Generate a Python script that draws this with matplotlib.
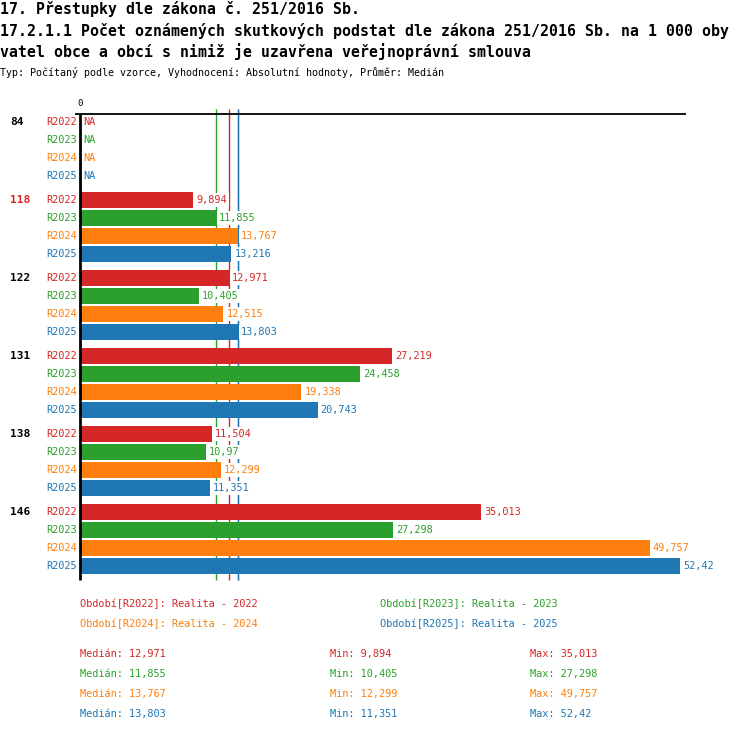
import matplotlib
matplotlib.use("Agg")
import matplotlib.pyplot as plt
import matplotlib.transforms as mtransforms
import numpy as np

# ---- data ----
groups = ["84", "118", "122", "131", "138", "146"]
highlight = "118"
series = ["R2022", "R2023", "R2024", "R2025"]
colors = ["#d62728", "#2ca02c", "#ff7f0e", "#1f77b4"]
v2022 = [None, 9.894, 12.971, 27.219, 11.504, 35.013]
v2023 = [None, 11.855, 10.405, 24.458, 10.97, 27.298]
v2024 = [None, 13.767, 12.515, 19.338, 12.299, 49.757]
v2025 = [None, 13.216, 13.803, 20.743, 11.351, 52.42]
values = [v2022, v2023, v2024, v2025]
medians = [12.971, 11.855, 13.767, 13.803]
mins = [9.894, 10.405, 12.299, 11.351]
maxs = [35.013, 27.298, 49.757, 52.42]
periods = ["Období[R2022]: Realita - 2022", "Období[R2023]: Realita - 2023",
           "Období[R2024]: Realita - 2024", "Období[R2025]: Realita - 2025"]
title1 = "17. Přestupky dle zákona č. 251/2016 Sb."
title2 = "17.2.1.1 Počet oznámených skutkových podstat dle zákona 251/2016 Sb. na 1 000 oby"
title3 = "vatel obce a obcí s nimiž je uzavřena veřejnoprávní smlouva"
subtitle = "Typ: Počítaný podle vzorce, Vyhodnocení: Absolutní hodnoty, Průměr: Medián"


def fmt(v):
    s = ("%.3f" % v).rstrip("0").rstrip(".")
    return s.replace(".", ",")


W, H = 750, 732
plt.rcParams['font.family'] = ['DejaVu Sans Mono']
fig = plt.figure(figsize=(W / 100, H / 100), dpi=100)

def fx(px):
    return px / W

def fy(py):
    return 1 - py / H

# axes: x 0..53 maps px 80..687 ; y rows
left, right, top, bottom = 80, 687, 114, 580
ax = fig.add_axes([fx(left), fy(bottom), fx(right - left), (bottom - top) / H])
step = 18.0
gstep = 78.0 / step
ytop = -(122 - top) / step
ybot = (bottom - 122) / step
ax.set_xlim(0, 53)
ax.set_ylim(ybot, ytop)
ax.axis("off")

bg = dict(facecolor="white", edgecolor="none", pad=1.2)
bh = 16 / step
for g, grp in enumerate(groups):
    for s in range(4):
        y = g * gstep + s
        v = values[s][g]
        c = colors[s]
        ax.annotate(series[s], xy=(0, y), xycoords="data", xytext=(-2, 0),
                    textcoords="offset points", ha="right", va="center",
                    fontsize=7.4, color=c)
        if v is None:
            ax.annotate("NA", xy=(0, y), xytext=(2.5, 0), textcoords="offset points",
                        ha="left", va="center", fontsize=7.4, color=c, zorder=4)
        else:
            ax.barh(y, v, height=bh, color=c, left=0, zorder=3)
            ax.annotate(fmt(v), xy=(v, y), xytext=(2.2, 0), textcoords="offset points",
                        ha="left", va="center", fontsize=7.4, color=c,
                        bbox=bg, zorder=4)
    trans = mtransforms.blended_transform_factory(fig.transFigure, ax.transData)
    ax.text(fx(10), g * gstep, grp, transform=trans, ha="left", va="center",
            fontsize=8, fontweight="bold",
            color=(colors[0] if grp == highlight else "black"))

# median lines
ext = 5 / step
for s in range(4):
    ax.vlines(medians[s], ytop - ext, ybot, colors=colors[s], linewidth=1.0,
              clip_on=False, zorder=1)

# axis lines
ax.hlines(ytop, -5 / 11.45, 53 * (686 - 80) / (687 - 80), colors="black",
          linewidth=1.3, clip_on=False, zorder=5)
ax.vlines(0, ytop, ybot, colors="black", linewidth=2, clip_on=False, zorder=5)
ax.text(0, ytop - 0.6, "0", ha="center", va="center", fontsize=6.5, color="black")

# titles
fig.text(fx(0), fy(9), title1, ha="left", va="center", fontsize=10.75, fontweight="bold")
fig.text(fx(0), fy(31), title2, ha="left", va="center", fontsize=10.75, fontweight="bold")
fig.text(fx(0), fy(52), title3, ha="left", va="center", fontsize=10.75, fontweight="bold")
fig.text(fx(0), fy(73), subtitle, ha="left", va="center", fontsize=7.2)

# legend
lx = [80, 380, 80, 380]
ly = [604, 604, 624, 624]
for s in range(4):
    fig.text(fx(lx[s]), fy(ly[s]), periods[s], ha="left", va="center", fontsize=7.4, color=colors[s])

# stats
for s in range(4):
    yy = fy(654 + 20 * s)
    fig.text(fx(80), yy, "Medián: " + fmt(medians[s]), ha="left", va="center", fontsize=7.4, color=colors[s])
    fig.text(fx(330), yy, "Min: " + fmt(mins[s]), ha="left", va="center", fontsize=7.4, color=colors[s])
    fig.text(fx(530), yy, "Max: " + fmt(maxs[s]), ha="left", va="center", fontsize=7.4, color=colors[s])

fig.savefig("out.png", dpi=100)
